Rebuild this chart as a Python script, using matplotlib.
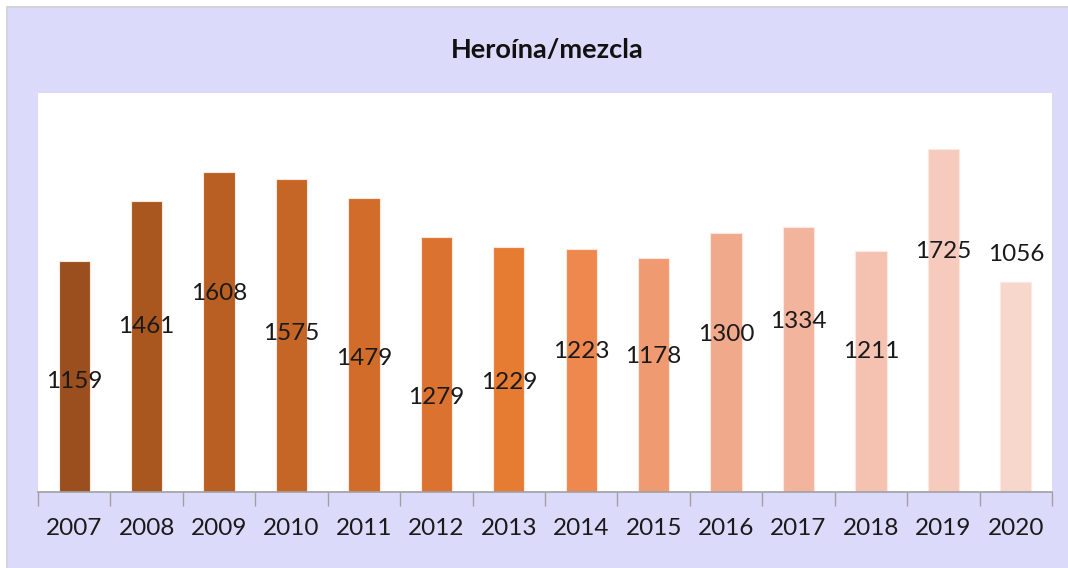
import matplotlib.pyplot as plt
from matplotlib.patches import Rectangle

# data
years = ['2007', '2008', '2009', '2010', '2011', '2012', '2013',
         '2014', '2015', '2016', '2017', '2018', '2019', '2020']
cases = [1159, 1461, 1608, 1575, 1479, 1279, 1229,
         1223, 1178, 1300, 1334, 1211, 1725, 1056]
bar_colors = ['#9b4f1f', '#a9561f', '#ba5f23', '#c56526', '#d26c2b', '#dc722f', '#e67b32',
              '#ee884e', '#f09a72', '#f1a98c', '#f3b49e', '#f5c2b2', '#f6cbbe', '#f7d7cc']
# where the value labels sit (data units, they were placed by hand in the original)
label_y = [554, 830, 996, 795, 669, 473, 549, 705, 679, 790, 856, 705, 1208, 1193]

W, H = 1068, 568
fig = plt.figure(figsize=(W/100, H/100), dpi=100)
fig.patch.set_facecolor('white')

# lavender chart panel with a soft shadow on the top/left
fig.patches.append(Rectangle((6/W, 0), 1, 1 - 6/H, transform=fig.transFigure,
                             facecolor='#d4d4dc', edgecolor='none', zorder=-2))
fig.patches.append(Rectangle((8/W, 0), 1, 1 - 8/H, transform=fig.transFigure,
                             facecolor='#dcdafa', edgecolor='none', zorder=-1))

ax = fig.add_axes([38/W, 1 - 492/H, (1052 - 38)/W, (492 - 93)/H])
ax.set_facecolor('white')

x = range(len(years))
ax.bar(x, cases, width=0.43, color=bar_colors, edgecolor='#fbe9e1', linewidth=0.8, zorder=2)

for i, v in enumerate(cases):
    ax.text(i, label_y[i], str(v), ha='center', va='center',
            fontsize=17.5, family='Lato', color='#1a1a1a', zorder=3)

ax.set_xlim(-0.5, len(years) - 0.5)
ax.set_ylim(0, 2005)
ax.set_yticks([])
for s in ['top', 'right', 'left']:
    ax.spines[s].set_visible(False)
ax.spines['bottom'].set_color('#a0a0a0')
ax.spines['bottom'].set_linewidth(1.2)

# ticks between categories, labels under each bar
ax.set_xticks([i - 0.5 for i in range(len(years) + 1)], minor=False)
ax.set_xticklabels([])
ax.tick_params(axis='x', length=10, width=1, color='#a0a0a0', direction='out')
ax.set_xticks(list(x), minor=True)
ax.set_xticklabels(years, minor=True)
ax.tick_params(axis='x', which='minor', length=0, pad=19, labelsize=17.5, labelcolor='#1a1a1a')
for lbl in ax.get_xticklabels(minor=True):
    lbl.set_family('Lato')

fig.text(547/W, 1 - 50/H, 'Heroína/mezcla', ha='center', va='center',
         fontsize=19.5, fontweight='bold', family='Lato', color='#111111')

fig.savefig('out.png', dpi=100, facecolor=fig.get_facecolor())
